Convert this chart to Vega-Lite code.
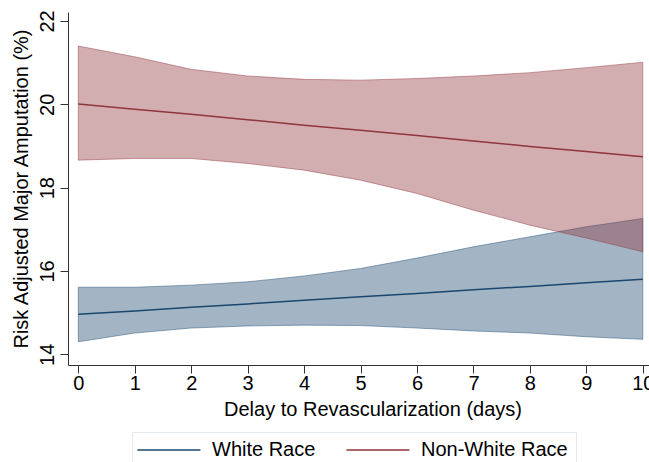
{
  "$schema": "https://vega.github.io/schema/vega-lite/v6.json",
  "autosize": "none",
  "width": 581,
  "height": 353,
  "padding": {"left": 68, "top": 12, "right": 0, "bottom": 97},
  "background": "white",
  "config": {
    "view": {"stroke": null},
    "font": "Liberation Sans",
    "axis": {"grid": false, "domainColor": "#333333", "tickColor": "#333333", "tickSize": 8, "domainWidth": 1, "tickWidth": 1, "labelColor": "#000000", "titleColor": "#000000", "labelFontSize": 20, "titleFontSize": 20, "labelFont": "Liberation Sans", "titleFont": "Liberation Sans", "titleFontWeight": "normal"}
  },
  "data": {
    "values": [
      {"group": "White Race", "x": 0, "lo": 14.30, "hi": 15.61, "est": 14.96},
      {"group": "White Race", "x": 1, "lo": 14.51, "hi": 15.61, "est": 15.04},
      {"group": "White Race", "x": 2, "lo": 14.63, "hi": 15.66, "est": 15.13},
      {"group": "White Race", "x": 3, "lo": 14.68, "hi": 15.74, "est": 15.21},
      {"group": "White Race", "x": 4, "lo": 14.70, "hi": 15.88, "est": 15.30},
      {"group": "White Race", "x": 5, "lo": 14.69, "hi": 16.06, "est": 15.38},
      {"group": "White Race", "x": 6, "lo": 14.63, "hi": 16.31, "est": 15.46},
      {"group": "White Race", "x": 7, "lo": 14.56, "hi": 16.58, "est": 15.55},
      {"group": "White Race", "x": 8, "lo": 14.51, "hi": 16.82, "est": 15.63},
      {"group": "White Race", "x": 9, "lo": 14.42, "hi": 17.06, "est": 15.72},
      {"group": "White Race", "x": 10, "lo": 14.36, "hi": 17.26, "est": 15.80},
      {"group": "Non-White Race", "x": 0, "lo": 18.66, "hi": 21.40, "est": 20.01},
      {"group": "Non-White Race", "x": 1, "lo": 18.70, "hi": 21.14, "est": 19.88},
      {"group": "Non-White Race", "x": 2, "lo": 18.70, "hi": 20.84, "est": 19.76},
      {"group": "Non-White Race", "x": 3, "lo": 18.58, "hi": 20.68, "est": 19.63},
      {"group": "Non-White Race", "x": 4, "lo": 18.42, "hi": 20.60, "est": 19.50},
      {"group": "Non-White Race", "x": 5, "lo": 18.18, "hi": 20.58, "est": 19.38},
      {"group": "Non-White Race", "x": 6, "lo": 17.86, "hi": 20.62, "est": 19.25},
      {"group": "Non-White Race", "x": 7, "lo": 17.46, "hi": 20.68, "est": 19.12},
      {"group": "Non-White Race", "x": 8, "lo": 17.10, "hi": 20.76, "est": 18.99},
      {"group": "Non-White Race", "x": 9, "lo": 16.79, "hi": 20.88, "est": 18.87},
      {"group": "Non-White Race", "x": 10, "lo": 16.46, "hi": 21.01, "est": 18.74}
    ]
  },
  "encoding": {
    "x": {
      "field": "x", "type": "quantitative",
      "scale": {"domain": [-0.1825, 10.11], "nice": false, "zero": false},
      "axis": {"values": [0,1,2,3,4,5,6,7,8,9,10], "title": "Delay to Revascularization (days)", "labelBaseline": "alphabetic", "labelPadding": 16, "labelFlush": false, "labelOverlap": false, "titleX": 304.5, "titleY": 50, "titleBaseline": "alphabetic", "titleAlign": "center", "titleAnchor": null}
    }
  },
  "layer": [
    {
      "transform": [{"filter": "datum.group === 'White Race'"}],
      "mark": {"type": "area", "fill": "#1a476f", "fillOpacity": 0.4, "stroke": "#1a476f", "strokeOpacity": 0.45, "strokeWidth": 1},
      "encoding": {
        "y": {
          "field": "lo", "type": "quantitative",
          "scale": {"domain": [13.743, 22.216], "nice": false, "zero": false},
          "axis": {"values": [14,16,18,20,22], "title": "Risk Adjusted Major Amputation (%)", "labelAngle": -90, "labelAlign": "center", "labelBaseline": "alphabetic", "labelPadding": 7, "titleAngle": 270, "titleX": -41, "titleY": 176.5, "titleAlign": "center", "titleBaseline": "alphabetic", "titleAnchor": null}
        },
        "y2": {"field": "hi"}
      }
    },
    {
      "transform": [{"filter": "datum.group === 'Non-White Race'"}],
      "mark": {"type": "area", "fill": "#90353b", "fillOpacity": 0.4, "stroke": "#90353b", "strokeOpacity": 0.45, "strokeWidth": 1},
      "encoding": {
        "y": {"field": "lo", "type": "quantitative"},
        "y2": {"field": "hi"}
      }
    },
    {
      "mark": {"type": "line", "strokeWidth": 1.5},
      "encoding": {
        "y": {"field": "est", "type": "quantitative"},
        "color": {
          "field": "group", "type": "nominal",
          "scale": {"domain": ["White Race", "Non-White Race"], "range": ["#1a476f", "#90353b"]},
          "legend": {
            "title": null, "orient": "none", "direction": "horizontal", "legendX": 64, "legendY": 420,
            "symbolType": "M-2,0H8", "symbolSize": 159, "symbolStrokeWidth": 1.5, "symbolFillColor": "transparent",
            "labelFontSize": 20, "labelFont": "Liberation Sans", "labelColor": "#000000", "labelOffset": 52,
            "columnPadding": 27, "padding": 8, "strokeColor": "#e4eaee", "fillColor": "white", "labelLimit": 300
          }
        }
      }
    }
  ]
}
